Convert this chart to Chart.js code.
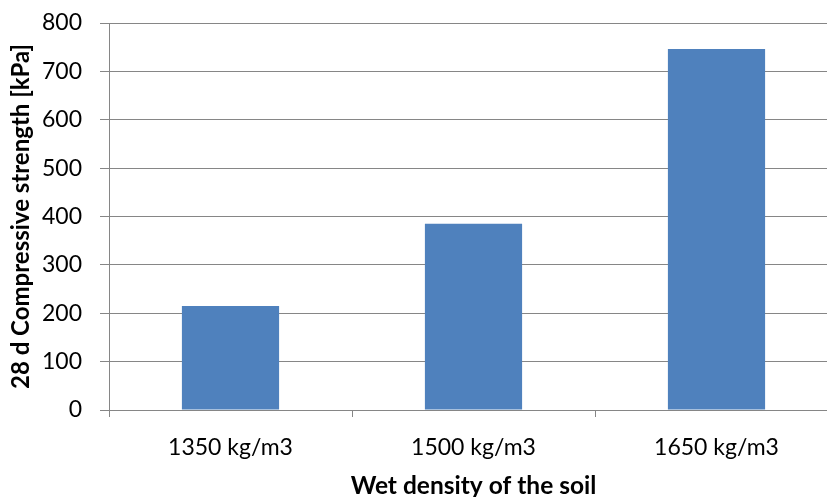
<!DOCTYPE html>
<html>
<head>
<meta charset="utf-8">
<script src="https://cdn.jsdelivr.net/npm/chart.js@4/dist/chart.umd.min.js"></script>
<style>
  html, body { margin: 0; padding: 0; background: #fff; overflow: hidden; }
  #wrap { width: 840px; height: 497px; }
</style>
</head>
<body>
<div id="wrap"><canvas id="chart" width="840" height="497"></canvas></div>
<script>
const categories = ['1350 kg/m3', '1500 kg/m3', '1650 kg/m3'];
const strength = [215, 385, 746];
const yMin = 0;
const yMax = 800;
const yStep = 100;

const gridColor = '#868686';
const fontFamily = 'Lato, "Open Sans", sans-serif';

const ctx = document.getElementById('chart').getContext('2d');
new Chart(ctx, {
  type: 'bar',
  data: {
    labels: categories,
    datasets: [{
      label: '28 d Compressive strength',
      data: strength,
      backgroundColor: '#4F81BD',
      borderWidth: 0,
      categoryPercentage: 1,
      barPercentage: 0.4
    }]
  },
  options: {
    responsive: false,
    animation: false,
    layout: { padding: { top: 23, right: 2, left: 0, bottom: 0 } },
    plugins: {
      legend: { display: false },
      tooltip: { enabled: false }
    },
    scales: {
      x: {
        afterFit: (scale) => {
          scale.height = 87;
          scale.paddingLeft = 0;
          scale.paddingRight = 0;
        },
        grid: {
          offset: true,
          drawOnChartArea: false,
          drawTicks: true,
          tickLength: 7,
          color: gridColor
        },
        border: { display: true, color: gridColor },
        ticks: {
          color: '#000',
          padding: 17,
          font: { family: fontFamily, size: 23 }
        },
        title: {
          display: true,
          text: 'Wet density of the soil',
          color: '#000',
          padding: { top: 0, bottom: 0 },
          font: { family: fontFamily, size: 24.5, weight: 'bold', lineHeight: 0.9 }
        }
      },
      y: {
        min: yMin,
        max: yMax,
        afterFit: (scale) => {
          scale.width = 109;
          scale.paddingTop = 0;
          scale.paddingBottom = 0;
        },
        grid: {
          color: gridColor,
          drawTicks: true,
          tickLength: 9
        },
        border: { display: true, color: gridColor },
        ticks: {
          stepSize: yStep,
          color: '#000',
          padding: 18,
          font: { family: fontFamily, size: 23 }
        },
        title: {
          display: true,
          text: '28 d Compressive strength [kPa]',
          color: '#000',
          padding: { top: 7, bottom: 0 },
          font: { family: fontFamily, size: 24, weight: 'bold' }
        }
      }
    }
  }
});
</script>
</body>
</html>
